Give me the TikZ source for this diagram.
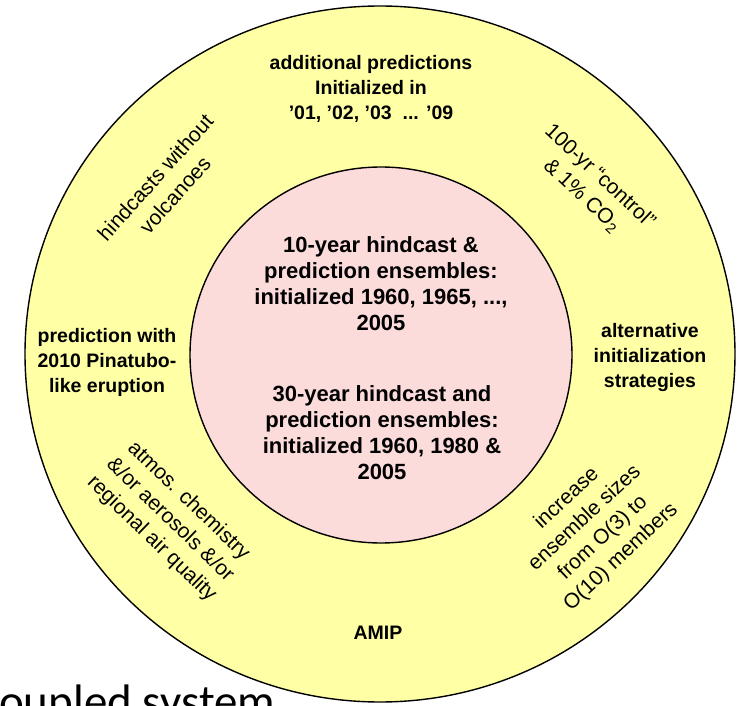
\documentclass[tikz,border=0pt]{standalone}
\usepackage{fontspec}
\setmainfont{Liberation Sans}
\newfontfamily\calib{Carlito}
\definecolor{ringyellow}{RGB}{255,255,165}
\definecolor{corepink}{RGB}{252,219,219}
\begin{document}
\begin{tikzpicture}[x=1pt,y=-1pt,
  outerlbl/.style={font=\bfseries\fontsize{19.5}{25}\selectfont, align=center, inner sep=0pt},
  innerlbl/.style={font=\bfseries\fontsize{22}{26}\selectfont, align=center, inner sep=0pt},
  rotlbl/.style={font=\fontsize{21}{26.5}\selectfont, align=center, inner sep=0pt},
  ring/.style={draw=black, line width=1.4pt}
]
\useasboundingbox (0,0) rectangle (740,706);
\clip (0,0) rectangle (740,706);
\fill[white] (0,0) rectangle (740,706);
\draw[ring, fill=ringyellow] (380,354) ellipse [x radius=355pt, y radius=348pt];
\draw[ring, fill=corepink] (381,355) ellipse [x radius=191pt, y radius=188pt];

\node[outerlbl] (top) at (371,89) {additional predictions\\Initialized in\\’01, ’02, ’03 \ ... ’09};
\node[outerlbl] (left) at (107,362) {prediction with\\2010 Pinatubo-\\like eruption};
\node[outerlbl] (right) at (650,358) {alternative\\initialization\\strategies};
\node[outerlbl] (amip) at (378,633) {AMIP};

\node[innerlbl] (ten) at (381,284) {10-year hindcast \&\\prediction ensembles:\\initialized 1960, 1965, ...,\\2005};
\node[innerlbl] (thirty) at (382,433) {30-year hindcast and\\prediction ensembles:\\initialized 1960, 1980 \&\\2005};

\node[rotlbl, rotate=48] (novolc) at (165,186) {hindcasts without\\volcanoes};
\node[rotlbl, rotate=-43] (ctrl) at (591,186) {100-yr “control”\\\& 1\% CO\textsubscript{2}};
\node[rotlbl, rotate=-44] (chem) at (170,520) {atmos. chemistry\\\&/or aerosols \&/or\\regional air quality};
\node[rotlbl, rotate=43] (ens) at (594,528) {increase\\ensemble sizes\\from O(3) to\\O(10) members};

\node[font=\calib\fontsize{47}{50}\selectfont, anchor=base west, inner sep=0pt] (cap) at (-1,717) {oupled system};
\end{tikzpicture}
\end{document}
